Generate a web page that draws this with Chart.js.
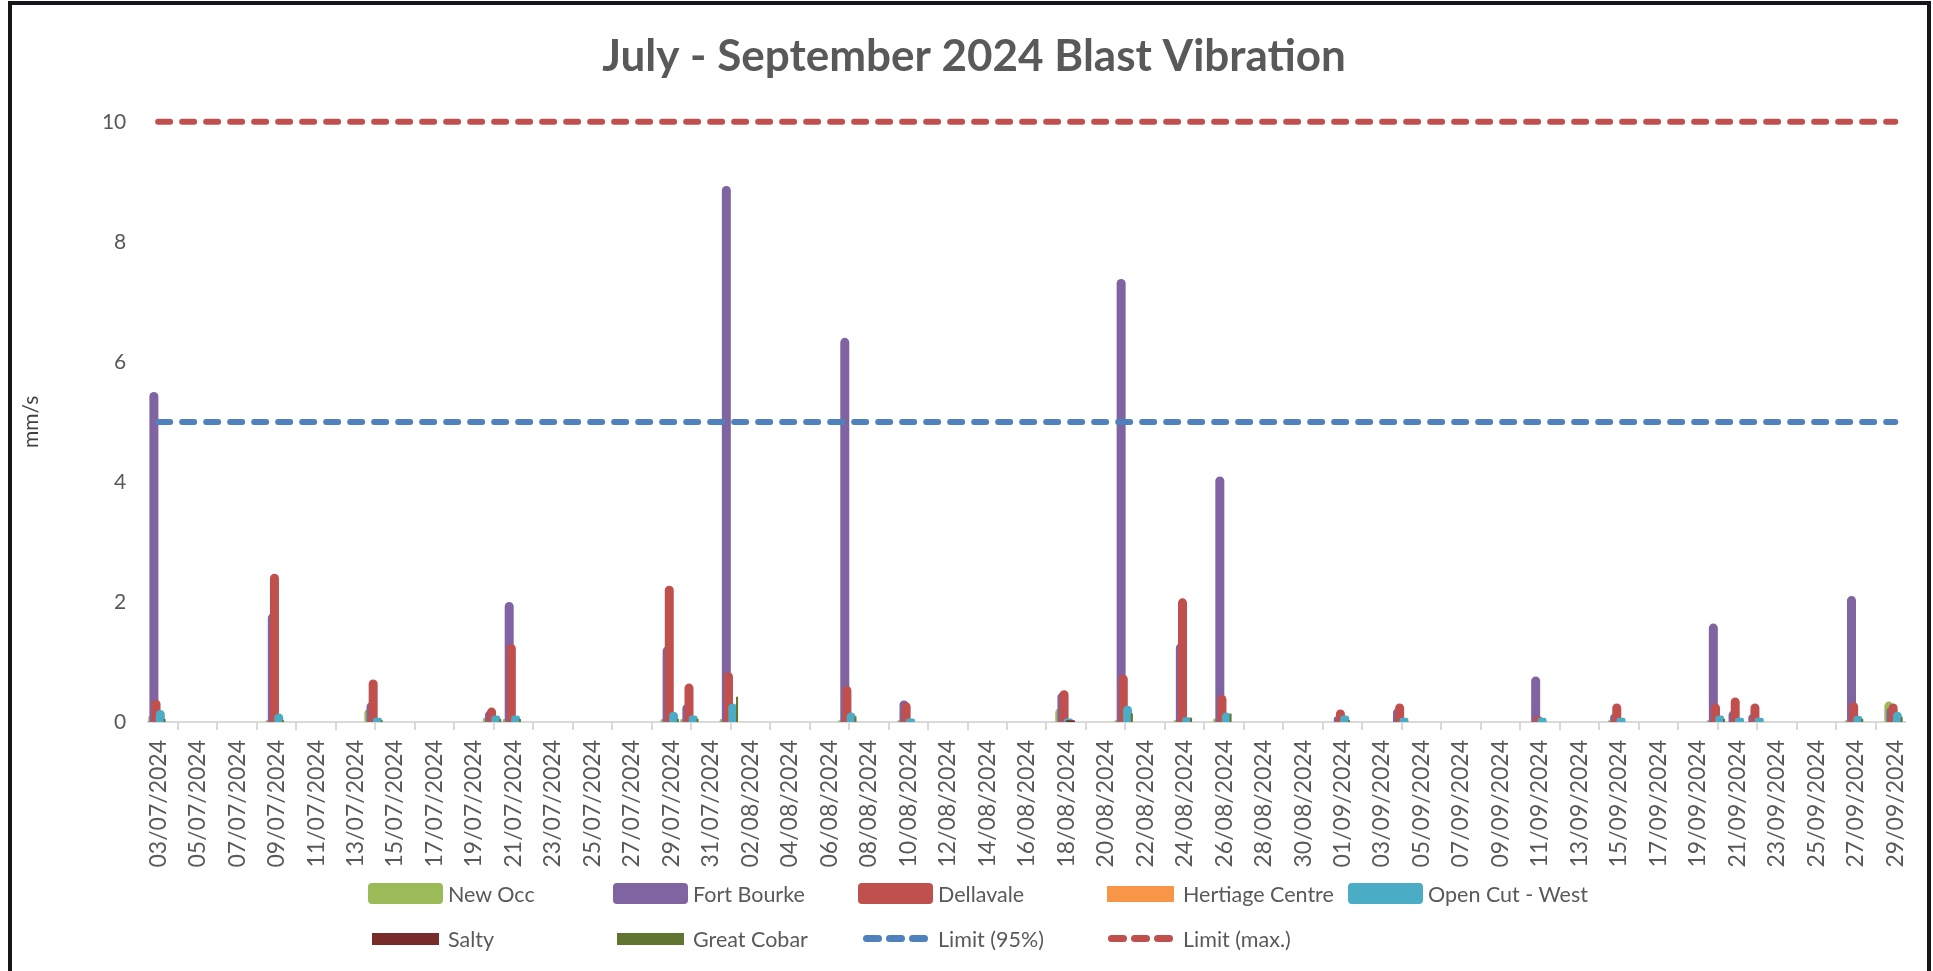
<!DOCTYPE html>
<html>
<head>
<meta charset="utf-8">
<title>July - September 2024 Blast Vibration</title>
<script src="https://cdn.jsdelivr.net/npm/chart.js@4.4.1/dist/chart.umd.min.js"></script>
<style>
	html, body { margin: 0; padding: 0; background: #fff; overflow: hidden; }
	#wrap { position: relative; width: 1933px; height: 971px; }
	#blastChart { position: absolute; left: 0; top: 0; }
	#frame { position: absolute; left: 8px; top: 1px; width: 1915px; height: 1000px; border: 4px solid #15151c; pointer-events: none; }
	#legend { position: absolute; left: 368px; top: 871px; display: grid; grid-template-columns: repeat(5, 245px); grid-auto-rows: 45px; font: 21.5px Lato, sans-serif; color: #595959; }
	.item { display: flex; align-items: center; white-space: nowrap; }
	.sym { width: 75px; height: 100%; display: flex; align-items: center; justify-content: center; margin-right: 5px; gap: 4px; }
	.pill { width: 19px; height: 7px; border-radius: 4px; }
</style>
</head>
<body>
<div id="wrap">
	<canvas id="blastChart" width="1933" height="971"></canvas>
	<div id="legend"></div>
	<div id="frame"></div>
</div>
<script>
// every day on the axis
const days = [
	'03/07/2024', '04/07/2024', '05/07/2024', '06/07/2024', '07/07/2024', '08/07/2024', '09/07/2024', '10/07/2024', '11/07/2024', '12/07/2024',
	'13/07/2024', '14/07/2024', '15/07/2024', '16/07/2024', '17/07/2024', '18/07/2024', '19/07/2024', '20/07/2024', '21/07/2024', '22/07/2024',
	'23/07/2024', '24/07/2024', '25/07/2024', '26/07/2024', '27/07/2024', '28/07/2024', '29/07/2024', '30/07/2024', '31/07/2024',
	'01/08/2024', '02/08/2024', '03/08/2024', '04/08/2024', '05/08/2024', '06/08/2024', '07/08/2024', '08/08/2024', '09/08/2024', '10/08/2024',
	'11/08/2024', '12/08/2024', '13/08/2024', '14/08/2024', '15/08/2024', '16/08/2024', '17/08/2024', '18/08/2024', '19/08/2024', '20/08/2024',
	'21/08/2024', '22/08/2024', '23/08/2024', '24/08/2024', '25/08/2024', '26/08/2024', '27/08/2024', '28/08/2024', '29/08/2024', '30/08/2024', '31/08/2024',
	'01/09/2024', '02/09/2024', '03/09/2024', '04/09/2024', '05/09/2024', '06/09/2024', '07/09/2024', '08/09/2024', '09/09/2024', '10/09/2024',
	'11/09/2024', '12/09/2024', '13/09/2024', '14/09/2024', '15/09/2024', '16/09/2024', '17/09/2024', '18/09/2024', '19/09/2024', '20/09/2024',
	'21/09/2024', '22/09/2024', '23/09/2024', '24/09/2024', '25/09/2024', '26/09/2024', '27/09/2024', '28/09/2024', '29/09/2024'
];

// days with a blast, and the reading (mm/s) at each monitor on those days
const blastDays = [
	'03/07/2024', '09/07/2024', '14/07/2024', '20/07/2024', '21/07/2024', '29/07/2024', '30/07/2024', '01/08/2024',
	'07/08/2024', '10/08/2024', '18/08/2024', '21/08/2024', '24/08/2024', '26/08/2024', '01/09/2024', '04/09/2024',
	'11/09/2024', '15/09/2024', '20/09/2024', '21/09/2024', '22/09/2024', '27/09/2024', '29/09/2024'
];
const newOcc =        [0.10, 0.03, 0.22, 0.07, 0.05, 0.05, 0.05, 0.05, 0.03, 0.03, 0.23, 0.03, 0.03, 0.06, null, null, null, 0.03, 0.03, null, null, 0.03, 0.34];
const fortBourke =    [5.50, 1.81, 0.33, 0.19, 2.00, 1.26, 0.30, 8.93, 6.40, 0.36, 0.49, 7.38, 1.31, 4.09, 0.09, 0.23, 0.76, 0.14, 1.64, 0.19, 0.13, 2.10, 0.25];
const dellavale =     [0.37, 2.47, 0.71, 0.24, 1.30, 2.27, 0.64, 0.83, 0.60, 0.33, 0.53, 0.79, 2.06, 0.45, 0.21, 0.31, 0.09, 0.31, 0.31, 0.41, 0.31, 0.33, 0.31];
const heritageCentre = [null, null, null, null, null, null, null, null, null, null, null, null, null, null, null, null, null, null, null, null, null, null, null];
const openCutWest =   [0.20, 0.14, 0.07, 0.11, 0.11, 0.17, 0.11, 0.31, 0.16, 0.06, 0.06, 0.27, 0.08, 0.16, 0.11, 0.07, 0.07, 0.07, 0.11, 0.07, 0.07, 0.10, 0.17];
const salty =         [null, null, null, null, null, null, null, null, null, null, 0.03, null, null, null, null, null, null, null, null, null, null, null, null];
const greatCobar =    [0.05, 0.03, 0.03, 0.05, 0.05, 0.05, 0.05, 0.42, 0.09, null, null, 0.14, 0.07, 0.14, 0.03, null, null, null, 0.05, null, null, 0.05, 0.08];

const LIMIT_95 = 5;
const LIMIT_MAX = 10;

const TEXT_GREY = '#595959';
const FONT = 'Lato, "Noto Sans", sans-serif';

function onDays(values) {
	const out = days.map(() => null);
	blastDays.forEach((d, i) => {
		out[days.indexOf(d)] = values[i];
	});
	return out;
}

function barSet(label, values, color, extra) {
	return Object.assign({
		type: 'bar',
		label: label,
		data: onDays(values),
		backgroundColor: color,
		borderWidth: 0,
		borderRadius: 5,
		borderSkipped: 'start',
		categoryPercentage: 0.76,
		barPercentage: 4.2,
		legendShape: 'box'
	}, extra || {});
}

function limitSet(label, value, color) {
	return {
		type: 'line',
		label: label,
		data: days.map(() => value),
		borderColor: color,
		backgroundColor: color,
		borderWidth: 6,
		borderDash: [12, 12],
		borderCapStyle: 'round',
		pointRadius: 0,
		fill: false,
		clip: false, // the max limit sits on the top edge of the plot
		legendShape: 'dash'
	};
}

// Excel draws later series on top; Chart.js draws the first one on top, so turn that round
const drawInOrder = {
	id: 'drawInOrder',
	beforeDatasetsDraw(chart) {
		chart.getSortedVisibleDatasetMetas().forEach((meta) => chart._drawDataset(meta));
		return false;
	}
};

function buildLegend(chart) {
	const box = document.getElementById('legend');
	chart.data.datasets.forEach((ds) => {
		const item = document.createElement('div');
		item.className = 'item';
		const sym = document.createElement('div');
		sym.className = 'sym';

		if (ds.legendShape === 'dash') {
			for (let i = 0; i < 3; i++) {
				const pill = document.createElement('div');
				pill.className = 'pill';
				pill.style.background = ds.borderColor;
				sym.appendChild(pill);
			}
		} else {
			const swatch = document.createElement('div');
			const thin = ds.legendShape === 'thin';
			swatch.style.width = thin ? '67px' : '75px';
			swatch.style.height = thin ? (ds.legendHeight || 12) + 'px' : '21px';
			swatch.style.borderRadius = thin ? '0' : '4px';
			swatch.style.background = ds.backgroundColor;
			sym.appendChild(swatch);
		}

		const text = document.createElement('span');
		text.textContent = ds.label;
		item.appendChild(sym);
		item.appendChild(text);
		box.appendChild(item);
	});
}

document.addEventListener('DOMContentLoaded', () => {
	const chart = new Chart(document.getElementById('blastChart'), {
		data: {
			labels: days,
			datasets: [
				barSet('New Occ', newOcc, '#9bbb59'),
				barSet('Fort Bourke', fortBourke, '#8064a2'),
				barSet('Dellavale', dellavale, '#c0504d'),
				barSet('Hertiage Centre', heritageCentre, '#f79646', { legendShape: 'thin', legendHeight: 16 }),
				barSet('Open Cut - West', openCutWest, '#4bacc6'),
				barSet('Salty', salty, '#772c2a', { legendShape: 'thin' }),
				barSet('Great Cobar', greatCobar, '#5f7530', { legendShape: 'thin', barPercentage: 0.95, borderRadius: 0 }),
				limitSet('Limit (95%)', LIMIT_95, '#4f81bd'),
				limitSet('Limit (max.)', LIMIT_MAX, '#c0504d')
			]
		},
		options: {
			responsive: false,
			animation: false,
			layout: {
				// left/right uneven so the title sits where Excel put it
				padding: { left: 37, right: 22, top: 14, bottom: 99 }
			},
			plugins: {
				legend: { display: false },
				tooltip: { enabled: false },
				title: {
					display: true,
					text: 'July - September 2024 Blast Vibration',
					color: TEXT_GREY,
					font: { family: FONT, size: 44, weight: 'bold', lineHeight: 1.2 },
					padding: { top: 16, bottom: 39 }
				}
			},
			scales: {
				x: {
					type: 'category',
					offset: true,
					grid: {
						display: true,
						offset: true,
						drawOnChartArea: false,
						drawTicks: true,
						tickLength: 8,
						color: '#d9d9d9',
						lineWidth: 2
					},
					border: { display: true, color: '#d9d9d9', width: 2 },
					ticks: {
						autoSkip: false,
						maxRotation: 90,
						minRotation: 90,
						padding: 10,
						color: TEXT_GREY,
						font: { family: FONT, size: 23 },
						callback: function (value, index) {
							return index % 2 === 0 ? this.getLabelForValue(value) : null;
						}
					},
					afterFit: (scale) => { scale.height = 150; }
				},
				y: {
					min: 0,
					max: 10,
					grid: { display: false, drawTicks: false },
					border: { display: false },
					ticks: {
						stepSize: 2,
						padding: 22,
						color: TEXT_GREY,
						font: { family: FONT, size: 21 }
					},
					title: {
						display: true,
						text: 'mm/s',
						color: '#404040',
						font: { family: FONT, size: 21, lineHeight: 1.2 },
						padding: { top: -18.6, bottom: 0 }
					},
					afterFit: (scale) => { scale.width = 111.3; }
				}
			}
		},
		plugins: [drawInOrder]
	});

	buildLegend(chart);
});
</script>
</body>
</html>
